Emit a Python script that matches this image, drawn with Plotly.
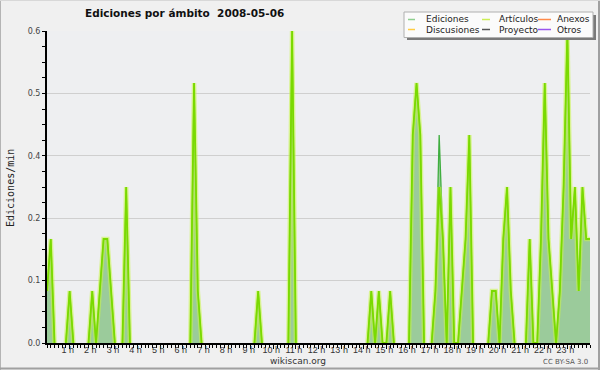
import plotly.graph_objects as go

# ---- data (10-minute bins, edits per minute) ----
bin_minutes = 10
ediciones = [
    0.1, 0.2, 0, 0, 0, 0, 0.1, 0, 0, 0, 0, 0,          # 0h-2h
    0.1, 0, 0.1, 0.2, 0.2, 0.1, 0, 0, 0, 0.3, 0, 0,    # 2h-4h
    0, 0, 0, 0, 0, 0, 0, 0, 0, 0, 0, 0,                # 4h-6h
    0, 0, 0, 0.5, 0.1, 0, 0, 0, 0, 0, 0, 0,            # 6h-8h
    0, 0, 0, 0, 0, 0, 0, 0, 0.1, 0, 0, 0,              # 8h-10h
    0, 0, 0, 0, 0, 0.6, 0, 0, 0, 0, 0, 0,              # 10h-12h
    0, 0, 0, 0, 0, 0, 0, 0, 0, 0, 0, 0,                # 12h-14h
    0, 0, 0.1, 0, 0.1, 0, 0, 0.1, 0, 0, 0, 0,          # 14h-16h
    0, 0.4, 0.5, 0.4, 0, 0, 0, 0.1, 0.4, 0.2, 0, 0.3,  # 16h-18h
    0, 0, 0.1, 0.2, 0.4, 0, 0, 0, 0, 0, 0.1, 0.1,      # 18h-20h
    0, 0.2, 0.3, 0.1, 0, 0, 0, 0, 0.2, 0, 0, 0.2,      # 20h-22h
    0.5, 0.2, 0.1, 0, 0.1, 0.3, 0.6, 0.2, 0.3, 0.1, 0.3, 0.2,  # 22h-24h
    0.2,
]
articulos = [
    0.1, 0.2, 0, 0, 0, 0, 0.1, 0, 0, 0, 0, 0,
    0.1, 0, 0.1, 0.2, 0.2, 0.1, 0, 0, 0, 0.3, 0, 0,
    0, 0, 0, 0, 0, 0, 0, 0, 0, 0, 0, 0,
    0, 0, 0, 0.5, 0.1, 0, 0, 0, 0, 0, 0, 0,
    0, 0, 0, 0, 0, 0, 0, 0, 0.1, 0, 0, 0,
    0, 0, 0, 0, 0, 0.6, 0, 0, 0, 0, 0, 0,
    0, 0, 0, 0, 0, 0, 0, 0, 0, 0, 0, 0,
    0, 0, 0.1, 0, 0.1, 0, 0, 0.1, 0, 0, 0, 0,
    0, 0.4, 0.5, 0.4, 0, 0, 0, 0.1, 0.3, 0.2, 0, 0.3,
    0, 0, 0.1, 0.2, 0.4, 0, 0, 0, 0, 0, 0.1, 0.1,
    0, 0.2, 0.3, 0.1, 0, 0, 0, 0, 0.2, 0, 0, 0.2,
    0.5, 0.2, 0.1, 0, 0.1, 0.3, 0.6, 0.2, 0.3, 0.1, 0.3, 0.2,
    0.2,
]
hour_ticks = list(range(1, 24))
hour_labels = [f"{h} h" for h in hour_ticks]
y_tickvals = [0, 0.12, 0.24, 0.36, 0.48, 0.6]
y_ticktext = ["0.0", "0.1", "0.2", "0.4", "0.5", "0.6"]

legend_names = [["Ediciones", "Artículos", "Anexos"],
                ["Discusiones", "Proyecto", "Otros"]]
legend_colors = [["#8fcf8f", "#ccee55", "#ff8a4a"],
                 ["#ffcc44", "#555555", "#9955ee"]]

hours = [i * bin_minutes / 60 for i in range(len(ediciones))]


def edges_only(vals):
    """Keep the outline of the non-zero parts; drop the flat runs lying on the baseline."""
    n = len(vals)
    out = []
    for i, v in enumerate(vals):
        near = v != 0 or (i > 0 and vals[i - 1] != 0) or (i < n - 1 and vals[i + 1] != 0)
        out.append(v if near else None)
    return out


# ---- geometry helpers (pixels -> paper) ----
W, H = 600, 370
L, R, T, B = 47, 10, 31, 27
PW, PH = W - L - R, H - T - B


def px(x):
    return (x - L) / PW


def py(y):
    return (H - B - y) / PH


fig = go.Figure()
fig.add_trace(go.Scatter(
    x=hours, y=ediciones, name="Ediciones", mode="lines",
    line=dict(color="rgba(0,0,0,0)", width=0), fill="tozeroy",
    fillcolor="rgba(145,198,145,0.9)", showlegend=False,
))
fig.add_trace(go.Scatter(
    x=hours, y=edges_only(ediciones), name="Ediciones", mode="lines",
    line=dict(color="#3fae3f", width=1.3), showlegend=False, hoverinfo="skip",
))
fig.add_trace(go.Scatter(
    x=hours, y=edges_only(articulos), name="Artículos", mode="lines",
    line=dict(color="rgba(200,245,70,0.55)", width=4.5),
    showlegend=False, hoverinfo="skip",
))
fig.add_trace(go.Scatter(
    x=hours, y=edges_only(articulos), name="Artículos", mode="lines",
    line=dict(color="rgb(122,218,0)", width=1.8),
    showlegend=False,
))

shapes = []
annotations = []

# outer frame
shapes += [
    dict(type="line", xref="paper", yref="paper", x0=px(0.5), x1=px(0.5), y0=py(0), y1=py(370),
         line=dict(color="#b4b4b4", width=1)),
    dict(type="line", xref="paper", yref="paper", x0=px(0), x1=px(600), y0=py(368.5), y1=py(368.5),
         line=dict(color="#a0a0a0", width=2)),
    dict(type="line", xref="paper", yref="paper", x0=px(599), x1=px(599), y0=py(0), y1=py(370),
         line=dict(color="#a0a0a0", width=2)),
    dict(type="line", xref="paper", yref="paper", x0=px(0), x1=px(600), y0=py(0.5), y1=py(0.5),
         line=dict(color="#d8d8d8", width=1)),
]

# legend box with shadow
shapes.append(dict(type="rect", xref="paper", yref="paper", x0=px(407), x1=px(596), y0=py(15), y1=py(40),
                   fillcolor="#7a7a7a", line=dict(width=0)))
shapes.append(dict(type="rect", xref="paper", yref="paper", x0=px(404), x1=px(593), y0=py(12), y1=py(37.5),
                   fillcolor="#fbfbfb", line=dict(color="#b0b0b0", width=1)))
col_line = [(408, 415), (482, 490), (538, 551)]
col_text = [424, 497, 555]
row_y = [19.5, 29.5]
for r in range(2):
    for c in range(3):
        shapes.append(dict(type="line", xref="paper", yref="paper",
                           x0=px(col_line[c][0]), x1=px(col_line[c][1]),
                           y0=py(row_y[r]), y1=py(row_y[r]),
                           line=dict(color=legend_colors[r][c], width=1.5)))
        annotations.append(dict(text=legend_names[r][c], xref="paper", yref="paper",
                                x=px(col_text[c]), y=py(row_y[r]), xanchor="left", yanchor="middle",
                                showarrow=False, font=dict(family="DejaVu Sans", size=9, color="#222")))

# y axis title
annotations.append(dict(text="Ediciones/min", xref="paper", yref="paper", x=px(10), y=py(188),
                        textangle=-90, showarrow=False, xanchor="center", yanchor="middle",
                        font=dict(family="DejaVu Sans Mono", size=10, color="#222")))
# footer
annotations.append(dict(text="wikiscan.org", xref="paper", yref="paper", x=px(298), y=py(361),
                        showarrow=False, xanchor="center", yanchor="middle",
                        font=dict(family="DejaVu Sans", size=9, color="#333")))
annotations.append(dict(text="CC BY-SA 3.0", xref="paper", yref="paper", x=px(590), y=py(362),
                        showarrow=False, xanchor="right", yanchor="middle",
                        font=dict(family="DejaVu Sans", size=7, color="#555")))

fig.update_layout(
    width=W, height=H,
    margin=dict(l=L, r=R, t=T, b=B, pad=0, autoexpand=False),
    paper_bgcolor="#f0f0f0", plot_bgcolor="#eeeff1",
    title=dict(text="<b>Ediciones por ámbito  2008-05-06</b>", xref="container", yref="container",
               x=85 / W, y=1 - 13.5 / H, xanchor="left", yanchor="middle",
               font=dict(family="DejaVu Sans", size=10.5, color="#111")),
    shapes=shapes, annotations=annotations, showlegend=False,
    xaxis=dict(range=[0, 24], tickvals=hour_ticks, ticktext=hour_labels, ticks="outside",
               ticklen=4, tickcolor="#000", tickwidth=1, showgrid=False, zeroline=False,
               showline=True, linecolor="#000", linewidth=2, ticklabelstandoff=-7,
               ticklabelshift=-2,
               tickfont=dict(family="Liberation Sans", size=9, color="#333"),
               minor=dict(dtick=1 / 6, ticks="outside", ticklen=3, tickcolor="#000", showgrid=False)),
    yaxis=dict(range=[0, 0.6], tickvals=y_tickvals, ticktext=y_ticktext, ticks="outside",
               ticklen=3, tickcolor="#000", showgrid=True, gridcolor="#cfcfcf", gridwidth=1,
               zeroline=False, showline=True, linecolor="#000", linewidth=2,
               tickfont=dict(family="DejaVu Sans", size=8, color="#444"),
               minor=dict(dtick=0.03, ticks="outside", ticklen=3, tickcolor="#000", showgrid=False)),
)

fig.write_html("out.html", config={"displayModeBar": False},
               post_script="document.body.style.margin='0';document.body.style.overflow='hidden';")
